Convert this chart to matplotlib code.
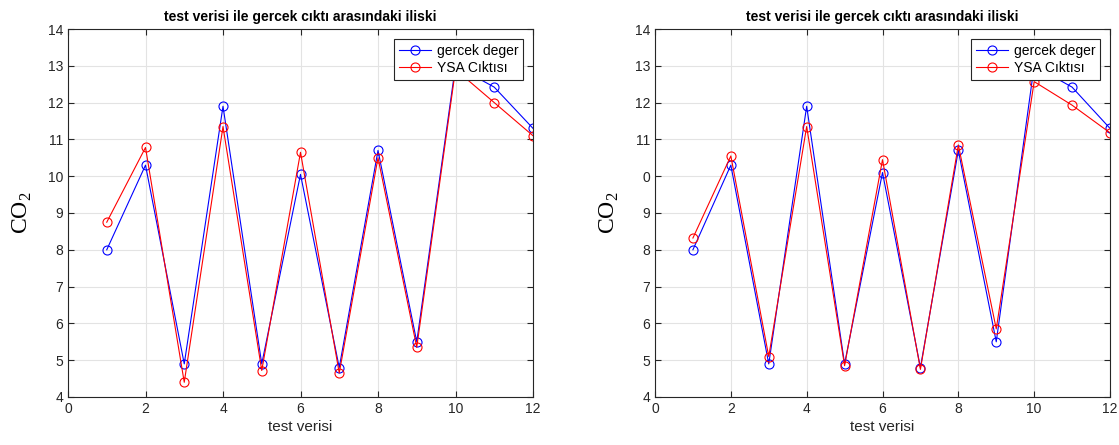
import matplotlib.pyplot as plt
import numpy as np

plt.rcParams['font.family'] = ['Liberation Sans', 'DejaVu Sans']
plt.rcParams['mathtext.fontset'] = 'custom'
plt.rcParams['mathtext.rm'] = 'Liberation Serif'

test_x = np.arange(1, 13)

# left panel
gercek_1 = [8.0, 10.3, 4.9, 11.9, 4.9, 10.05, 4.8, 10.7, 5.5, 13.0, 12.42, 11.3]
ysa_1 = [8.75, 10.78, 4.4, 11.35, 4.72, 10.65, 4.65, 10.5, 5.35, 12.9, 12.0, 11.1]

# right panel
gercek_2 = [8.0, 10.3, 4.9, 11.9, 4.9, 10.1, 4.8, 10.7, 5.5, 13.0, 12.42, 11.3]
ysa_2 = [8.32, 10.55, 5.1, 11.35, 4.85, 10.45, 4.75, 10.85, 5.85, 12.57, 11.93, 11.18]

yticks = list(range(4, 15))
ytick_labels_left = [str(v) for v in yticks]
ytick_labels_right = ['0' if v == 10 else str(v) for v in yticks]

fig = plt.figure(figsize=(11.19, 4.45), dpi=100)
ax1 = fig.add_axes([68 / 1119, 1 - 397 / 445, 465 / 1119, 368 / 445])
ax2 = fig.add_axes([655 / 1119, 1 - 397 / 445, 455 / 1119, 368 / 445])

for ax, g, y, labels in [(ax1, gercek_1, ysa_1, ytick_labels_left),
                         (ax2, gercek_2, ysa_2, ytick_labels_right)]:
    ax.plot(test_x, g, '-o', color='blue', lw=0.8, ms=6.5, mfc='none', mew=0.8, label='gercek deger')
    ax.plot(test_x, y, '-o', color='red', lw=0.8, ms=6.5, mfc='none', mew=0.8, label='YSA Cıktısı')
    ax.set_xlim(0, 12)
    ax.set_ylim(4, 14)
    ax.set_xticks(range(0, 13, 2))
    ax.set_yticks(yticks)
    ax.set_yticklabels(labels)
    ax.grid(True, color='#e3e3e3', lw=0.8)
    ax.set_axisbelow(True)
    ax.tick_params(direction='in', top=True, right=True, labelsize=10, colors='#262626', length=4)
    for s in ax.spines.values():
        s.set_color('#262626')
        s.set_linewidth(0.8)
    ax.set_title('test verisi ile gercek cıktı arasındaki iliski', fontsize=10, fontweight='bold', pad=6)
    ax.set_xlabel('test verisi', fontsize=11, color='#262626', labelpad=3)
    ax.set_ylabel('CO$_2$', fontsize=17, color='black', labelpad=10, family='Liberation Serif')
    leg = ax.legend(loc='upper right', fontsize=10, fancybox=False, framealpha=1,
                    edgecolor='#262626', borderpad=0.35, handlelength=2.3,
                    handletextpad=0.4, labelspacing=0.25, borderaxespad=0.7)
    leg.get_frame().set_linewidth(0.8)

fig.savefig('out.png', dpi=100)
